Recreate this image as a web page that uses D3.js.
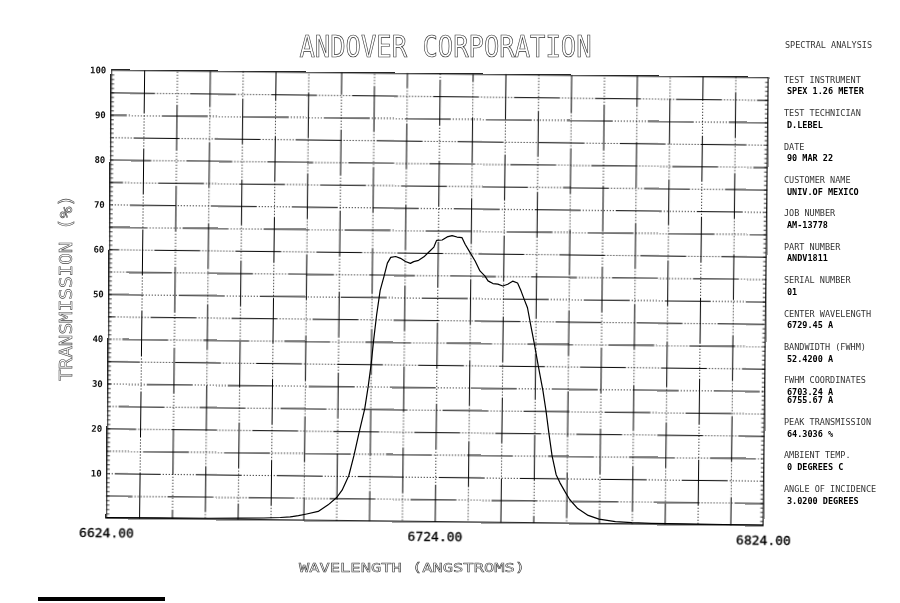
<!DOCTYPE html>
<html>
<head>
<meta charset="utf-8">
<script src="https://cdn.jsdelivr.net/npm/d3@7"></script>
<style>
  html, body { margin: 0; padding: 0; background: #fff; }
  svg { display: block; }
  text { font-family: "DejaVu Sans Mono", "Liberation Mono", monospace; }
</style>
</head>
<body>
<div id="chart"></div>
<script>
// ---------------- DATA ----------------
const wavelength = [6624, 6640, 6655, 6665, 6672, 6677, 6680, 6682.5, 6685, 6688.5, 6691.5, 6694,
  6695.7, 6697.7, 6699.2, 6700.7, 6702.3, 6703.3, 6704.1, 6704.8, 6705.6, 6706.6, 6707.7, 6708.7,
  6709.7, 6711.2, 6712.7, 6714.2, 6715.7, 6716.7, 6718.2, 6719.8, 6721.3, 6722.8, 6723.6, 6725.3,
  6726.8, 6728.3, 6729.8, 6731.3, 6732.3, 6733.8, 6735.4, 6736.9, 6738.4, 6739.4, 6740.9, 6742.4,
  6743.9, 6745.4, 6746.9, 6748.4, 6749.5, 6750.5, 6751.5, 6752.5, 6753.7, 6755, 6756.5, 6757.5,
  6758.5, 6759.5, 6760.8, 6762, 6763.5, 6765, 6767.5, 6770.7, 6774, 6779, 6784, 6790, 6800, 6812, 6824];
const transmission = [0.1, 0.15, 0.2, 0.3, 0.4, 0.55, 0.7, 1.0, 1.4, 2.0, 3.5, 5.1,
  6.8, 10.1, 14.6, 19.8, 25.0, 30.1, 35.0, 40.5, 46.0, 51.5, 54.6, 57.6,
  58.9, 59.1, 58.7, 58.0, 57.6, 58.0, 58.3, 59.1, 60.2, 61.3, 62.8, 62.9,
  63.6, 63.9, 63.6, 63.5, 62.0, 60.2, 58.3, 56.1, 55.0, 53.9, 53.3, 53.2,
  52.8, 53.2, 53.9, 53.5, 51.7, 49.8, 48.0, 44.3, 40.0, 35.0, 29.5, 25.0,
  19.8, 15.0, 10.8, 9.0, 7.1, 5.3, 3.3, 1.8, 1.0, 0.5, 0.3, 0.2, 0.15, 0.12, 0.1];

const xTickValues = [6624, 6724, 6824];
const yTickValues = [100, 90, 80, 70, 60, 50, 40, 30, 20, 10];

const titleText = "ANDOVER CORPORATION";
const xTitle = "WAVELENGTH (ANGSTROMS)";
const yTitle = "TRANSMISSION (%)";
const panelTitle = "SPECTRAL ANALYSIS";
const sideHeaders = ["TEST INSTRUMENT", "TEST TECHNICIAN", "DATE", "CUSTOMER NAME", "JOB NUMBER",
  "PART NUMBER", "SERIAL NUMBER", "CENTER WAVELENGTH", "BANDWIDTH (FWHM)", "FWHM COORDINATES",
  "PEAK TRANSMISSION", "AMBIENT TEMP.", "ANGLE OF INCIDENCE"];
const sideValues = [["SPEX 1.26 METER"], ["D.LEBEL"], ["90 MAR 22"], ["UNIV.OF MEXICO"], ["AM-13778"],
  ["ANDV1811"], ["01"], ["6729.45 A"], ["52.4200 A"], ["6703.24 A", "6755.67 A"], ["64.3036 %"],
  ["0 DEGREES C"], ["3.0200 DEGREES"]];

// ---------------- LAYOUT ----------------
const W = 900, H = 603;
const L = 108.75, R = 765.75, T = 73.75, B = 521.75;

const svg = d3.select("#chart").append("svg").attr("width", W).attr("height", H);
const defs = svg.append("defs");
defs.append("filter").attr("id", "gray").attr("x", "-5%").attr("y", "-20%")
  .attr("width", "110%").attr("height", "140%")
  .append("feColorMatrix").attr("type", "saturate").attr("values", 0);

svg.append("rect").attr("width", W).attr("height", H).attr("fill", "#fff");
const root = svg.append("g").attr("filter", "url(#gray)");

const g = root.append("g").attr("transform", "rotate(0.65,437,298)");

const x = d3.scaleLinear().domain([6624, 6824]).range([L, R]);
const y = d3.scaleLinear().domain([0, 100]).range([B, T]);

const dashPat = "46,2,1,2,1,2,1,2,1,2,1,2,1,2,1,2,1,2,1,2,1,2,1,2";
const dashLen = 46 + 22 * 1.5 + 2;

// vertical grid
const gx = g.append("g").attr("transform", `translate(0,${B})`)
  .call(d3.axisBottom(x).tickValues(d3.range(6634, 6824, 10)).tickSize(-(B - T)).tickFormat(""));
gx.select(".domain").remove();
gx.selectAll(".tick line").attr("stroke", "#000").attr("stroke-width", 1)
  .attr("stroke-dasharray", dashPat).attr("stroke-dashoffset", (d, i) => (i * 37) % dashLen);

// horizontal grid
const gy = g.append("g").attr("transform", `translate(${L},0)`)
  .call(d3.axisLeft(y).tickValues(d3.range(5, 100, 5)).tickSize(-(R - L)).tickFormat(""));
gy.select(".domain").remove();
gy.selectAll(".tick line").attr("stroke", "#000").attr("stroke-width", 1)
  .attr("stroke-dasharray", dashPat).attr("stroke-dashoffset", (d, i) => (i * 53 + 20) % dashLen);

// minor ticks left & right
const tl = g.append("g").attr("transform", `translate(${L},0)`)
  .call(d3.axisRight(y).tickValues(d3.range(1, 100, 1)).tickSize(3).tickFormat(""));
tl.select(".domain").remove();
tl.selectAll(".tick line").attr("stroke", "#000").attr("stroke-width", 0.8);
const tr = g.append("g").attr("transform", `translate(${R},0)`)
  .call(d3.axisLeft(y).tickValues(d3.range(1, 100, 1)).tickSize(3).tickFormat(""));
tr.select(".domain").remove();
tr.selectAll(".tick line").attr("stroke", "#000").attr("stroke-width", 0.8);

// frame
g.append("rect").attr("x", L).attr("y", T).attr("width", R - L).attr("height", B - T)
  .attr("fill", "none").attr("stroke", "#000").attr("stroke-width", 1.2);

// y tick labels
const yl = g.append("g").attr("transform", `translate(${L},0)`)
  .call(d3.axisLeft(y).tickValues(yTickValues).tickSize(0).tickPadding(5).tickFormat(d3.format("d")));
yl.select(".domain").remove();
yl.selectAll("text").attr("font-family", "DejaVu Sans Mono").attr("font-size", 9)
  .attr("font-weight", "bold").attr("fill", "#111");

// x tick labels
const xl = g.append("g").attr("transform", `translate(0,${B})`)
  .call(d3.axisBottom(x).tickValues(xTickValues).tickSize(0).tickPadding(10).tickFormat(d3.format(".2f")));
xl.select(".domain").remove();
xl.selectAll("text").attr("font-family", "DejaVu Sans Mono").attr("font-size", 13)
  .attr("fill", "#000").attr("stroke", "#000").attr("stroke-width", 0.3);

// curve
const line = d3.line().x((d, i) => x(wavelength[i])).y(d => y(d));
g.append("path").datum(transmission).attr("d", line)
  .attr("fill", "none").attr("stroke", "#000").attr("stroke-width", 1.2).attr("stroke-linejoin", "round");

// titles (outlined plotter lettering)
root.append("text").attr("x", 445.5).attr("y", 56.7).attr("text-anchor", "middle")
  .attr("font-size", 30).attr("textLength", 292).attr("lengthAdjust", "spacingAndGlyphs")
  .attr("fill", "none").attr("stroke", "#333").attr("stroke-width", 0.7)
  .text(titleText);

root.append("text").attr("x", 412).attr("y", 572).attr("text-anchor", "middle")
  .attr("font-size", 13).attr("textLength", 226).attr("lengthAdjust", "spacingAndGlyphs")
  .attr("fill", "none").attr("stroke", "#444").attr("stroke-width", 0.55)
  .text(xTitle);

root.append("text").attr("transform", "translate(72,288) rotate(-90)").attr("text-anchor", "middle")
  .attr("font-size", 17).attr("textLength", 186).attr("lengthAdjust", "spacingAndGlyphs")
  .attr("fill", "none").attr("stroke", "#444").attr("stroke-width", 0.55)
  .text(yTitle);

// side panel
root.append("text").attr("x", 785).attr("y", 48.3).attr("font-size", 8.5).attr("fill", "#333").text(panelTitle);
let yy = 82.7;
sideHeaders.forEach((h, i) => {
  root.append("text").attr("x", 784).attr("y", yy).attr("font-size", 8.5).attr("fill", "#333").text(h);
  sideValues[i].forEach((v, j) => {
    root.append("text").attr("x", 787).attr("y", yy + 11.7 + j * 8.3).attr("font-size", 8.5)
      .attr("font-weight", "bold").attr("fill", "#000").text(v);
  });
  yy += 33.4 + (sideValues[i].length - 1) * 8.3;
});

// scan bar at bottom-left
root.append("rect").attr("x", 38).attr("y", 597).attr("width", 127).attr("height", 4).attr("fill", "#000");
</script>
</body>
</html>
